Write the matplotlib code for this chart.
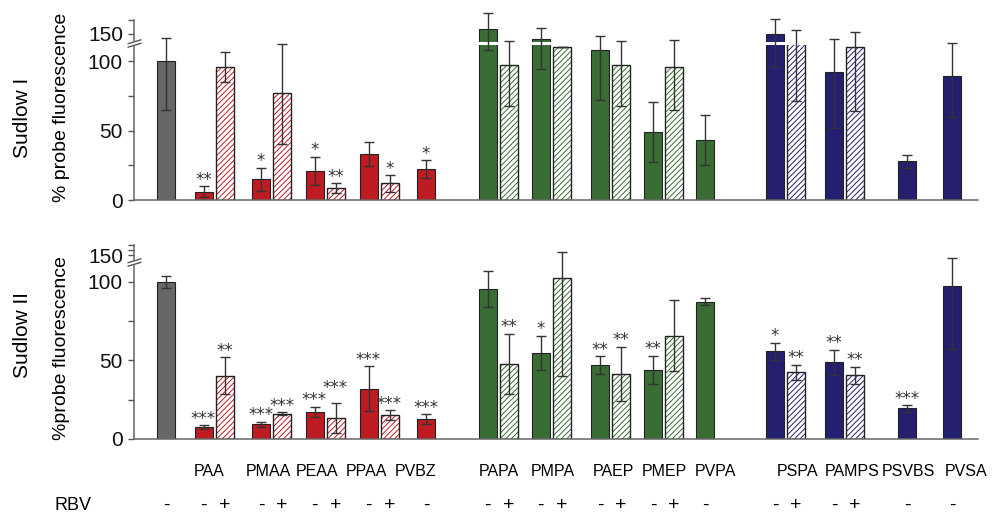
import numpy as np
import matplotlib
matplotlib.use('Agg')
import matplotlib.pyplot as plt
from matplotlib.path import Path
from matplotlib.transforms import blended_transform_factory

plt.rcParams['font.family'] = ['Liberation Sans', 'DejaVu Sans']
plt.rcParams['hatch.linewidth'] = 0.7

# groups along the x axis (first one is the untreated control)
groups = ['', 'PAA', 'PMAA', 'PEAA', 'PPAA', 'PVBZ',
          'PAPA', 'PMPA', 'PAEP', 'PMEP', 'PVPA',
          'PSPA', 'PAMPS', 'PSVBS', 'PVSA']
group_size = [1, 2, 2, 2, 2, 1, 2, 2, 2, 2, 1, 2, 2, 1, 1]
family = ['ctrl', 'red', 'red', 'red', 'red', 'red',
          'green', 'green', 'green', 'green', 'green',
          'blue', 'blue', 'blue', 'blue']

# Sudlow I
sud1_mean = [100, 6, 96, 15, 77, 21, 8.4, 33, 12, 22,
             166, 97, 132, 110, 108, 97, 49, 96, 43,
             150, 118, 92, 110, 28, 89]
sud1_err = [35, 4, 10.7, 8.4, 37, 10.3, 3.6, 8.7, 6, 6.5,
            58, 29, 38, 0, 36, 29, 21.7, 31, 18,
            54, 47, 40, 46, 4.6, 29]
sud1_sig = ['', '**', '', '*', '', '*', '**', '', '*', '*',
            '', '', '', '', '', '', '', '', '',
            '', '', '', '', '', '']

# Sudlow II
sud2_mean = [100, 7.4, 40.2, 9.5, 16.1, 17.4, 13.5, 32, 15.3, 12.5,
             95.2, 47.7, 54.9, 102.2, 46.9, 41.5, 43.9, 65.7, 87.3,
             55.9, 42.4, 48.8, 40.5, 19.5, 97.1]
sud2_err = [4, 1.3, 11.8, 1.6, 1, 3.2, 9.7, 14.2, 3.2, 3.2,
            11.5, 19.3, 10.9, 62, 5.7, 17.2, 9.2, 22.6, 2.1,
            5.5, 4.9, 8, 5.6, 2.1, 40]
sud2_sig = ['', '***', '**', '***', '***', '***', '***', '***', '***', '***',
            '', '**', '*', '', '**', '**', '**', '', '',
            '*', '**', '**', '**', '***', '']

colors = {'ctrl': '#676767', 'red': '#be1b22', 'green': '#3a6d34', 'blue': '#241f6f'}

# layout (x in pixel-like units)
group_x = [166, 214, 271.5, 325, 379, 426, 498, 551, 610.5, 663.5, 705,
           785.5, 844.5, 907, 952]
label_x = [166, 209, 268, 317, 366, 416, 499, 553, 613, 664, 715,
           797, 852, 908, 966]
bar_w = 18
pitch = 21

bar_x, bar_fam, bar_rbv = [], [], []
for gx, n, fam in zip(group_x, group_size, family):
    if n == 2:
        bar_x += [gx - pitch / 2, gx + pitch / 2]
        bar_rbv += ['-', '+']
        bar_fam += [fam, fam]
    else:
        bar_x.append(gx)
        bar_rbv.append('-')
        bar_fam.append(fam)
bar_x = np.array(bar_x)

# extra lift (points) for star labels that would collide with a neighbour
lift2 = np.zeros(len(bar_x))
lift2[6] = 6

KINK = 112


def make_scale(k):
    def fwd(y):
        y = np.asarray(y, dtype=float)
        return np.where(y <= KINK, y, KINK + (y - KINK) * k)

    def inv(d):
        d = np.asarray(d, dtype=float)
        return np.where(d <= KINK, d, KINK + (d - KINK) / k)
    return fwd, inv


gap_path = Path([(-1, -0.55), (1, 0.05), (1, 0.55), (-1, -0.05), (-1, -0.55)])
mark_path = Path([(-1, -0.55), (1, 0.05), (-1, -0.05), (1, 0.55)],
                 [Path.MOVETO, Path.LINETO, Path.MOVETO, Path.LINETO])


def draw_panel(ax, means, errs, sigs, k, brk, minor, lift):
    ax.set_yscale('function', functions=make_scale(k))
    for x, m, fam, r in zip(bar_x, means, bar_fam, bar_rbv):
        c = colors[fam]
        if r == '+':
            ax.bar(x, m, bar_w, color='white', edgecolor=c, hatch='//////',
                   linewidth=0, zorder=2)
            ax.bar(x, m, bar_w, fill=False, edgecolor='#222222', linewidth=1.0, zorder=2.1)
        else:
            ax.bar(x, m, bar_w, color=c, edgecolor='#222222', linewidth=0.8, zorder=2)
    # white band where the axis is broken
    ax.axhline(brk, color='white', lw=2.2, zorder=2.3)
    eb = ax.errorbar(bar_x, means, yerr=errs, fmt='none', ecolor='#333333',
                     elinewidth=1.0, capsize=3.5, capthick=1.0, zorder=3)
    for a in list(eb.lines[1]) + list(eb.lines[2]):
        a.set_clip_on(False)
    for x, m, e, s, dy in zip(bar_x, means, errs, sigs, lift):
        if s:
            ax.annotate(s, (x, m + e), xytext=(0, 1 + dy), textcoords='offset points',
                        ha='center', va='baseline', fontsize=12, color='#333333',
                        family='DejaVu Sans')

    ax.set_xlim(134, 978)
    ax.set_ylim(0, 200)
    ax.set_xticks([])
    ax.set_yticks([0, 50, 100, 150])
    ax.set_yticks(minor, minor=True)
    ax.tick_params(axis='y', which='both', direction='out', length=4, width=1,
                   color='#555555', labelsize=15, pad=4, labelcolor='#111111')
    for side in ['top', 'right']:
        ax.spines[side].set_visible(False)
    for side in ['left', 'bottom']:
        ax.spines[side].set_color('#666666')
        ax.spines[side].set_linewidth(1.1)

    yt = ax.get_yaxis_transform()
    ax.plot([0], [brk], marker=gap_path, markersize=10, markerfacecolor='white',
            markeredgecolor='white', transform=yt, clip_on=False, zorder=4)
    ax.plot([0], [brk], marker=mark_path, markersize=10, markerfacecolor='none',
            markeredgecolor='#555555', markeredgewidth=1, transform=yt,
            clip_on=False, zorder=5)


fig = plt.figure(figsize=(9.94, 5.16), dpi=100)
ax1 = fig.add_axes([134 / 994, (516 - 200) / 516, (978 - 134) / 994, 180 / 516])
ax2 = fig.add_axes([134 / 994, (516 - 439) / 516, (978 - 134) / 994, 194 / 516])

draw_panel(ax1, sud1_mean, sud1_err, sud1_sig, 0.2, 115.5, [25, 75, 200],
           np.zeros(len(bar_x)))
draw_panel(ax2, sud2_mean, sud2_err, sud2_sig, 0.13, 116, [25, 75, 175, 200], lift2)

# y labels
fig.text(22 / 994, 1 - 118 / 516, 'Sudlow I', rotation=90, ha='center', va='center', fontsize=15)
fig.text(62 / 994, 1 - 107 / 516, '% probe fluorescence', rotation=90, ha='center', va='center', fontsize=14)
fig.text(22 / 994, 1 - 335 / 516, 'Sudlow II', rotation=90, ha='center', va='center', fontsize=15)
fig.text(61 / 994, 1 - 348 / 516, '%probe fluorescence', rotation=90, ha='center', va='center', fontsize=14)

# group names and RBV row
tr = blended_transform_factory(ax2.transData, fig.transFigure)
for lx, name in zip(label_x, groups):
    if name:
        ax2.text(lx, 1 - 471 / 516, name, transform=tr, ha='center', va='center', fontsize=11.5)
for x, r in zip(bar_x, bar_rbv):
    ax2.text(x, 1 - 505 / 516, r, transform=tr, ha='center', va='center', fontsize=14)
fig.text(73 / 994, 1 - 505 / 516, 'RBV', ha='center', va='center', fontsize=13)

fig.savefig('out.png', dpi=100)
